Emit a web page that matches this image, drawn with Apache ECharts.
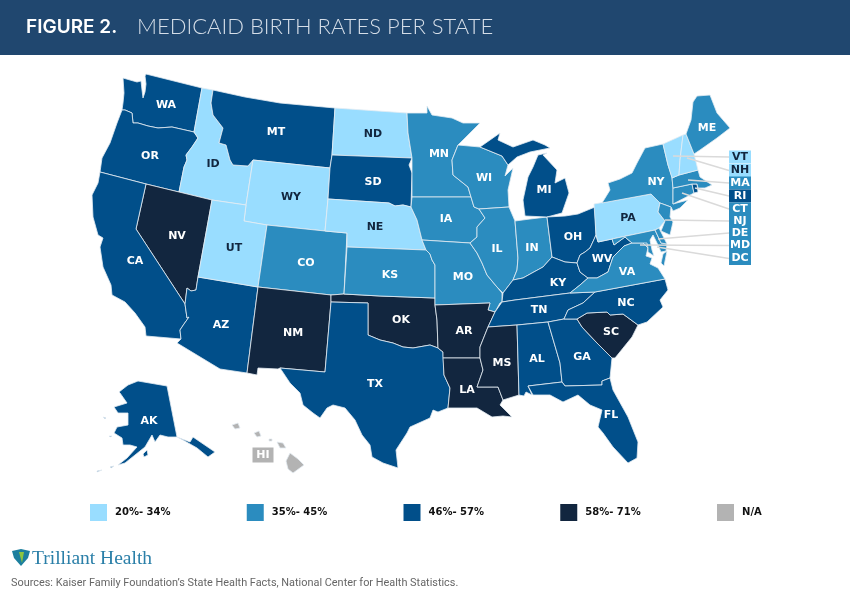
<!DOCTYPE html>
<html>
<head>
<meta charset="utf-8">
<style>html,body{margin:0;padding:0;background:#fff}#chart{width:850px;height:597px}</style>
<script src="https://cdn.jsdelivr.net/npm/echarts@6/dist/echarts.min.js"></script>
</head>
<body>
<div id="chart"></div>
<script>
// rate bands
var bandLabels = ['20%- 34%', '35%- 45%', '46%- 57%', '58%- 71%', 'N/A'];
var bandColors = ['#99DDFF', '#2B8CBF', '#014F8A', '#12263F', '#B3B3B3'];

// which state falls in which band
var band0States = ['ID', 'WY', 'UT', 'ND', 'NE', 'PA', 'VT', 'NH'];
var band1States = ['MN', 'WI', 'IA', 'IL', 'IN', 'MO', 'KS', 'CO', 'NY', 'VA', 'ME', 'MA', 'CT', 'NJ', 'DE', 'MD', 'DC'];
var band2States = ['WA', 'OR', 'CA', 'AZ', 'TX', 'MT', 'SD', 'MI', 'OH', 'WV', 'KY', 'TN', 'NC', 'AL', 'GA', 'FL', 'AK', 'RI'];
var band3States = ['NV', 'NM', 'OK', 'AR', 'LA', 'MS', 'SC'];
var band4States = ['HI'];
var bandStates = [band0States, band1States, band2States, band3States, band4States];

// states labelled in the callout column instead of on the map
var calloutStates = ['VT', 'NH', 'MA', 'RI', 'CT', 'NJ', 'DE', 'MD', 'DC'];

// no map file can be fetched here, so the outlines are traced by hand (in page pixels)
var outlines = {
  WA: [[[123,78],[130,80],[137,82],[141,81],[142,90],[143,98],[145,92],[146,84],[145,76],[146,74],[202,88],[194,132],[172,127],[158,128],[148,126],[138,123],[133,123],[132,113],[125,110],[122,110],[123,103],[124,93]]],
  OR: [[[122,110],[125,110],[132,113],[133,123],[138,123],[148,126],[158,128],[172,127],[194,132],[198,138],[192,147],[186,155],[187,160],[184,167],[179,192],[146,184],[100,172],[102,158],[110,143],[117,123]]],
  ID: [[[202,88],[213,90],[211,103],[213,115],[223,128],[219,143],[226,145],[230,160],[233,165],[248,166],[253,160],[246,205],[212,200],[179,192],[184,167],[187,160],[186,155],[192,147],[198,138],[194,132]]],
  MT: [[[213,90],[245,97],[280,103],[335,108],[332,155],[330,168],[253,160],[248,166],[233,165],[230,160],[226,145],[219,143],[223,128],[213,115],[211,103]]],
  WY: [[[253,160],[330,168],[328,199],[325,231],[267,225],[244,221],[246,205]]],
  NV: [[[146,184],[179,192],[212,200],[198,277],[196,290],[191,291],[187,288],[185,304],[136,229]]],
  CA: [[[100,172],[146,184],[136,229],[185,304],[187,318],[189,317],[184,324],[180,330],[181,339],[146,336],[145,327],[135,313],[125,302],[112,295],[111,285],[103,267],[100,247],[103,238],[98,235],[93,217],[92,195],[98,183]]],
  AZ: [[[198,277],[258,287],[247,373],[220,369],[177,343],[181,339],[180,330],[184,324],[189,317],[187,318],[185,304],[187,288],[191,291],[196,290]]],
  UT: [[[212,200],[246,205],[244,221],[267,225],[258,287],[198,277]]],
  CO: [[[267,225],[325,231],[347,233],[344,294],[331,295],[258,287]]],
  NM: [[[258,287],[331,295],[331,302],[325,372],[280,368],[278,369],[258,368],[257,375],[247,373]]],
  OK: [[[331,295],[344,294],[380,296],[435,298],[435,305],[437,320],[438,348],[430,345],[413,348],[403,347],[393,343],[380,340],[368,335],[368,303],[331,302]]],
  TX: [[[331,302],[368,303],[368,335],[380,340],[393,343],[403,347],[413,348],[430,345],[438,348],[443,352],[444,375],[450,388],[448,408],[438,412],[433,410],[430,418],[410,427],[407,433],[396,450],[398,468],[383,463],[372,457],[370,445],[362,435],[355,420],[345,408],[333,405],[327,408],[320,418],[313,413],[303,405],[300,393],[290,383],[280,368],[325,372]]],
  ND: [[[335,108],[407,113],[408,133],[412,158],[332,155]]],
  SD: [[[332,155],[412,158],[409,165],[412,173],[411,207],[403,205],[395,206],[389,203],[328,199],[330,168]]],
  NE: [[[328,199],[389,203],[395,206],[403,205],[411,207],[417,220],[422,240],[426,250],[347,247],[347,233],[325,231]]],
  KS: [[[347,247],[426,250],[430,254],[432,260],[435,265],[435,298],[380,296],[344,294]]],
  MN: [[[407,113],[427,113],[427,106],[432,115],[452,118],[463,123],[480,123],[458,145],[452,160],[453,175],[468,187],[471,197],[412,197],[412,158],[408,133]]],
  IA: [[[412,197],[471,197],[474,207],[479,209],[485,218],[477,227],[477,237],[470,243],[422,240],[417,220],[411,207]]],
  MO: [[[422,240],[470,243],[477,253],[482,263],[487,275],[497,287],[502,293],[502,302],[500,303],[495,312],[488,310],[490,303],[435,305],[435,265],[432,260],[430,254],[426,250]]],
  AR: [[[435,305],[490,303],[488,310],[495,312],[488,327],[480,347],[480,358],[443,358],[443,352],[438,348],[437,320]]],
  LA: [[[443,358],[480,358],[483,370],[477,387],[498,387],[503,400],[500,405],[505,410],[512,417],[503,416],[492,417],[477,408],[460,408],[448,408],[450,388],[444,375]]],
  WI: [[[458,145],[480,147],[502,156],[508,165],[505,176],[513,168],[508,190],[509,207],[479,209],[474,207],[471,197],[468,187],[453,175],[452,160]]],
  IL: [[[479,209],[509,207],[515,221],[518,258],[517,270],[513,280],[503,293],[502,293],[497,287],[487,275],[482,263],[477,253],[470,243],[477,237],[477,227],[485,218]]],
  IN: [[[515,221],[530,219],[547,217],[552,257],[543,267],[532,273],[523,278],[513,280],[517,270],[518,258]]],
  MI: [[[480,147],[500,133],[498,140],[513,147],[533,140],[545,145],[550,148],[540,150],[530,152],[517,157],[508,165],[502,156]],
       [[525,216],[523,200],[528,177],[533,167],[538,155],[547,153],[543,155],[557,170],[555,183],[565,178],[569,193],[562,213],[547,217]]],
  OH: [[[547,217],[565,216],[578,214],[595,207],[596,235],[590,248],[585,252],[580,255],[577,263],[565,262],[552,257]]],
  KY: [[[502,302],[503,293],[513,280],[523,278],[532,273],[543,267],[552,257],[565,262],[577,263],[580,272],[588,278],[580,285],[570,293],[515,300]]],
  WV: [[[577,263],[580,255],[585,252],[590,248],[596,235],[598,242],[612,239],[614,245],[625,237],[632,243],[624,246],[618,252],[613,257],[608,272],[597,278],[588,278],[580,272]]],
  TN: [[[502,302],[515,300],[570,293],[595,292],[583,303],[568,310],[564,319],[548,322],[517,325],[488,327],[495,312]]],
  MS: [[[488,327],[517,325],[519,395],[503,400],[498,387],[477,387],[483,370],[480,358],[480,347]]],
  AL: [[[517,325],[548,322],[560,363],[562,382],[528,386],[532,395],[526,392],[524,396],[519,395]]],
  GA: [[[548,322],[564,319],[577,319],[582,327],[597,343],[612,358],[610,378],[602,381],[602,385],[565,386],[562,382],[560,363]]],
  FL: [[[528,386],[562,382],[565,386],[602,385],[602,381],[610,378],[613,390],[628,417],[638,442],[637,458],[628,463],[613,447],[603,433],[598,427],[602,410],[590,405],[578,395],[563,402],[550,395],[533,395]]],
  SC: [[[577,319],[587,313],[607,312],[610,315],[623,314],[638,325],[632,337],[615,358],[612,358],[597,343],[582,327]]],
  NC: [[[595,292],[665,279],[668,290],[660,300],[663,307],[647,322],[638,325],[623,314],[610,315],[607,312],[587,313],[577,319],[564,319],[568,310],[583,303]]],
  VA: [[[570,293],[580,285],[588,278],[597,278],[608,272],[613,257],[618,252],[624,246],[632,243],[643,243],[648,248],[646,256],[652,258],[650,264],[658,268],[665,279],[595,292]],
       [[667,251],[664,266],[661,263],[663,254]]],
  PA: [[[594,204],[651,194],[660,203],[658,212],[665,221],[659,228],[655,230],[612,239],[598,242],[596,235]]],
  NY: [[[602,203],[610,190],[608,183],[620,179],[632,173],[637,163],[645,148],[663,144],[668,165],[672,177],[673,188],[673,204],[688,200],[680,208],[673,211],[671,207],[660,203],[651,194]]],
  NJ: [[[660,203],[671,207],[670,217],[673,222],[670,235],[661,231],[665,221],[658,212]]],
  MD: [[[612,239],[655,230],[661,243],[667,244],[666,251],[661,252],[657,243],[653,235],[650,240],[652,250],[654,256],[648,252],[648,248],[643,243],[632,243],[625,237],[614,245]]],
  DE: [[[655,230],[659,228],[662,234],[667,244],[661,243]]],
  DC: [[[643,243],[647,243],[648,248]]],
  CT: [[[673,188],[692,184],[694,193],[673,204]]],
  RI: [[[692,184],[697,184],[698,192],[694,193]]],
  MA: [[[672,178],[679,175],[698,170],[700,177],[712,185],[705,188],[698,188],[697,184],[692,184],[673,188]]],
  VT: [[[663,144],[683,135],[680,160],[679,175],[672,178],[668,165]]],
  NH: [[[683,135],[686,134],[694,154],[698,170],[679,175],[680,160]]],
  ME: [[[686,134],[691,120],[693,102],[697,96],[710,95],[717,113],[730,128],[717,138],[700,150],[694,154]]],
  AK: [[[119,392],[128,385],[138,381],[167,386],[177,437],[183,440],[197,448],[208,457],[215,452],[193,437],[190,442],[177,437],[168,437],[160,435],[155,442],[152,435],[145,447],[135,455],[125,463],[118,465],[127,458],[137,447],[130,445],[123,445],[122,438],[114,433],[117,427],[128,425],[128,413],[118,413],[114,407],[127,403],[120,393]],
       [[143,454],[147,450],[148,455],[144,457]],
       [[110,467],[114,466],[114,467],[111,468]],
       [[97,471],[102,470],[102,471],[97,472]],
       [[103,417],[106,418],[105,419]],
       [[109,436],[112,436],[112,437],[110,437]]],
  HI: [[[286,461],[290,453],[298,459],[304,465],[293,473],[288,469]],
       [[277,442],[283,443],[286,448],[280,448]],
       [[254,433],[259,431],[261,436],[257,437]],
       [[232,425],[238,423],[240,428],[235,429]],
       [[269,439],[272,439],[272,441],[269,441]]]
};

// where each state's abbreviation sits
var labelSpots = {
  WA: [166,105], OR: [150,156], ID: [213,164], MT: [276,132], WY: [291,197], NV: [177,236], CA: [135,261],
  UT: [234,248], CO: [306,263], AZ: [221,325], NM: [293,333], ND: [373,134], SD: [373,182], NE: [375,227],
  MN: [439,154], IA: [446,219], WI: [484,178], IL: [497,249], IN: [532,248], MI: [544,190], KS: [390,275],
  MO: [463,277], OK: [401,320], AR: [464,331], TX: [375,384], LA: [467,390], MS: [502,363], AL: [537,359],
  TN: [539,310], KY: [558,283], GA: [582,357], SC: [611,332], NC: [626,303], FL: [611,415], VA: [627,272],
  WV: [602,259], OH: [573,237], NY: [656,182], PA: [628,218], ME: [707,128], AK: [149,421]
};

// leader line starts on the map, one per callout
var calloutStarts = [[673,156],[687,158],[688,180],[695,188],[682,193],[665,220],[658,239],[640,245],[657,247]];
var calloutRows = [157,170.5,183,196,209,221,233,245.5,258.5];
var calloutX = 740;

var bandOf = {};
bandStates.forEach(function (list, i) {
  list.forEach(function (s) { bandOf[s] = i; });
});

var features = Object.keys(outlines).map(function (code) {
  var props = { name: code };
  if (labelSpots[code]) props.cp = labelSpots[code];
  return { type: 'Feature', properties: props, geometry: { type: 'MultiPolygon', coordinates: outlines[code].map(function (r) { return [r]; }) } };
});
echarts.registerMap('usa', { type: 'FeatureCollection', features: features });

var regions = Object.keys(outlines).map(function (code) {
  var hidden = calloutStates.indexOf(code) >= 0 || code === 'HI';
  return { name: code, label: { show: !hidden, color: bandOf[code] === 0 ? '#12263F' : '#fff' } };
});

var mapData = Object.keys(bandOf).map(function (code) {
  return { name: code, value: bandOf[code] };
});

var lineData = calloutStates.map(function (code, i) {
  return { coords: [calloutStarts[i], [calloutX - 11, calloutRows[i]]] };
});

var boxData = calloutStates.map(function (code, i) {
  return {
    name: code,
    value: [calloutX, calloutRows[i]],
    itemStyle: { color: bandColors[bandOf[code]], opacity: 1 },
    label: { color: bandOf[code] === 0 ? '#12263F' : '#fff' }
  };
});

var chart = echarts.init(document.getElementById('chart'));
chart.setOption({
  animation: false,
  backgroundColor: '#fff',
  title: [
    { text: 'FIGURE 2.', left: 26, top: 18, padding: 0, textStyle: { color: '#fff', fontFamily: 'Inter', fontWeight: 600, fontSize: 19 } },
    { text: 'MEDICAID BIRTH RATES PER STATE', left: 137, top: 16, padding: 0, textStyle: { color: '#D5DEE8', fontFamily: 'Lato', fontWeight: 300, fontSize: 22 } },
    { text: 'Trilliant Health', left: 32, top: 549, padding: 0, textStyle: { color: '#2A7FA8', fontFamily: 'Liberation Serif', fontWeight: 400, fontSize: 19.5 } },
    { text: 'Sources: Kaiser Family Foundation\u2019s State Health Facts, National Center for Health Statistics.', left: 11, top: 578, padding: 0, textStyle: { color: '#666', fontFamily: 'Roboto', fontWeight: 400, fontSize: 10.9 } }
  ],
  graphic: [
    { type: 'rect', z: -1, shape: { x: 0, y: 0, width: 850, height: 55 }, style: { fill: '#20476F' } },
    { type: 'polygon', shape: { points: [[12,551],[21,549],[30,551],[28,558],[21,566],[14,558]] }, style: { fill: '#1C7F9E' } },
    { type: 'polygon', shape: { points: [[19,552],[24,552],[22,563]] }, style: { fill: '#8CC63F' } }
  ],
  geo: {
    map: 'usa',
    roam: false,
    silent: true,
    projection: { project: function (p) { return p; }, unproject: function (p) { return p; } },
    boundingCoords: [[0, 0], [850, 597]],
    left: 0, top: 0, width: 850, height: 597,
    itemStyle: { borderColor: '#E4ECF2', borderWidth: 0.8 },
    label: { show: true, fontFamily: 'DejaVu Sans', fontWeight: 'bold', fontSize: 11 },
    regions: regions
  },
  visualMap: {
    type: 'piecewise',
    seriesIndex: 0,
    orient: 'horizontal',
    left: 90, top: 504,
    padding: 0,
    itemWidth: 17, itemHeight: 17,
    itemGap: 76.25, textGap: 8,
    itemSymbol: 'rect',
    selectedMode: false,
    textStyle: { color: '#111', fontFamily: 'DejaVu Sans', fontWeight: 'bold', fontSize: 10 },
    pieces: bandLabels.map(function (label, i) {
      return { value: i, label: label, color: bandColors[i] };
    })
  },
  series: [
    { type: 'map', geoIndex: 0, data: mapData },
    {
      type: 'lines', coordinateSystem: 'geo', silent: true, z: 5,
      lineStyle: { color: '#DADADA', width: 1.5, opacity: 1, curveness: 0 },
      data: lineData
    },
    {
      type: 'scatter', coordinateSystem: 'geo', silent: true, z: 6,
      symbol: 'rect', symbolSize: [22, 13],
      label: { show: true, position: 'inside', formatter: '{b}', fontFamily: 'DejaVu Sans', fontWeight: 'bold', fontSize: 11 },
      data: boxData
    },
    {
      type: 'scatter', coordinateSystem: 'geo', silent: true, z: 6,
      symbol: 'rect', symbolSize: [21, 15],
      itemStyle: { color: bandColors[4], opacity: 1 },
      label: { show: true, position: 'inside', formatter: '{b}', color: '#fff', fontFamily: 'DejaVu Sans', fontWeight: 'bold', fontSize: 11 },
      data: [{ name: 'HI', value: [263, 455] }]
    }
  ]
});
</script>
</body>
</html>
